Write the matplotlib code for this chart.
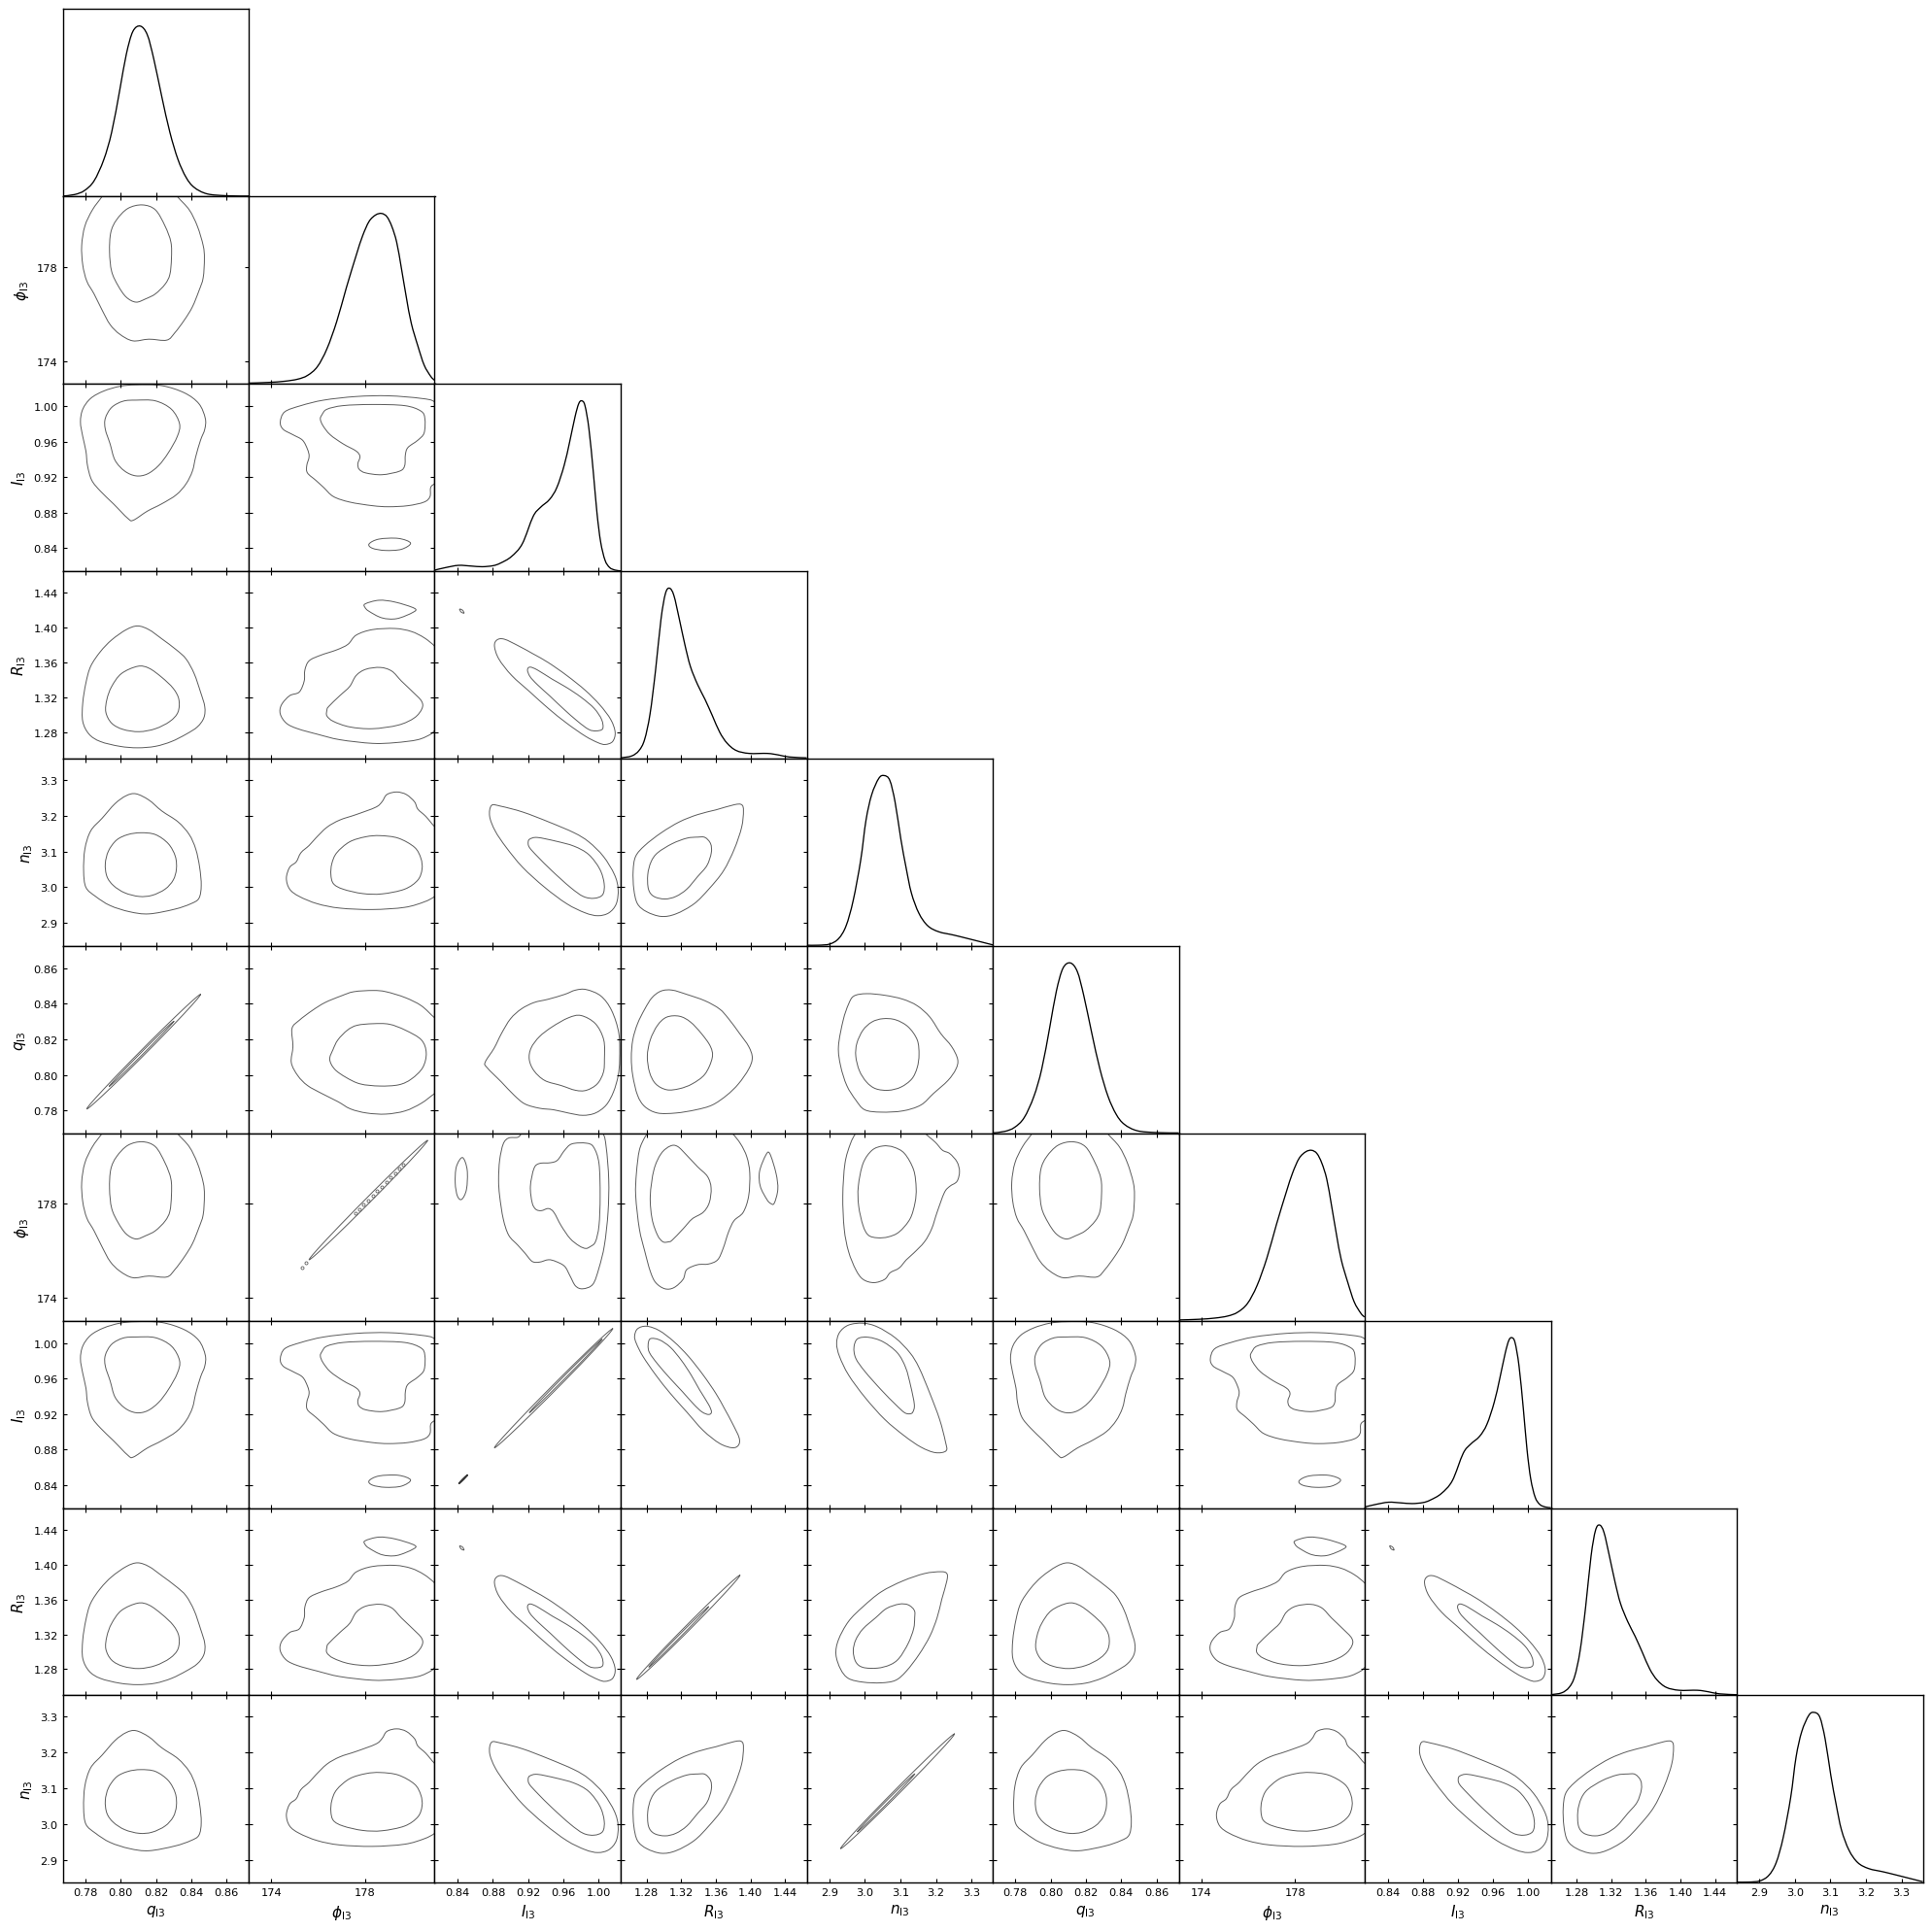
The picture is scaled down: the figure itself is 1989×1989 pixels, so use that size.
import numpy as np
import matplotlib
matplotlib.use("Agg")
import matplotlib.pyplot as plt
from matplotlib.path import Path
from matplotlib.patches import PathPatch

# ---------------- parameters / axes ----------------
PARAM_KEYS = ["q", "phi", "I", "R", "n", "q", "phi", "I", "R", "n"]
LABELS = {"q": r"$q_{\rm l3}$", "phi": r"$\phi_{\rm l3}$", "I": r"$I_{\rm l3}$",
          "R": r"$R_{\rm l3}$", "n": r"$n_{\rm l3}$"}
LIMITS = {"q": (0.7671, 0.8726), "phi": (173.04, 180.98), "I": (0.8137, 1.0255),
          "R": (1.2500, 1.4650), "n": (2.836, 3.360)}
Q_TICKS = [0.78, 0.80, 0.82, 0.84, 0.86]
PHI_TICKS = [174, 178]
I_TICKS = [0.84, 0.88, 0.92, 0.96, 1.00]
R_TICKS = [1.28, 1.32, 1.36, 1.40, 1.44]
N_TICKS = [2.9, 3.0, 3.1, 3.2, 3.3]
Q_TICKLABELS = ["0.78", "0.80", "0.82", "0.84", "0.86"]
PHI_TICKLABELS = ["174", "178"]
I_TICKLABELS = ["0.84", "0.88", "0.92", "0.96", "1.00"]
R_TICKLABELS = ["1.28", "1.32", "1.36", "1.40", "1.44"]
N_TICKLABELS = ["2.9", "3.0", "3.1", "3.2", "3.3"]

# ---------------- 1D marginals (peak-normalised) ----------------
Q_X = [0.7671, 0.7739, 0.7794, 0.7849, 0.7904, 0.7949, 0.7995, 0.8032, 0.8069, 0.8111,
       0.8151, 0.8188, 0.8233, 0.8279, 0.8325, 0.8371, 0.8417, 0.8490, 0.8600, 0.8726]
Q_D = [0.002, 0.011, 0.034, 0.091, 0.215, 0.377, 0.625, 0.834, 0.968, 1.0,
       0.949, 0.806, 0.587, 0.377, 0.217, 0.112, 0.053, 0.015, 0.004, 0.002]

PHI_X = [173.05, 173.89, 174.58, 175.13, 175.55, 175.97, 176.38, 176.80, 177.21, 177.63,
         177.90, 178.18, 178.46, 178.71, 178.94, 179.15, 179.36, 179.56, 179.77, 179.98,
         180.26, 180.53, 180.81, 180.97]
PHI_D = [0.004, 0.008, 0.015, 0.027, 0.049, 0.100, 0.205, 0.366, 0.564, 0.754,
         0.867, 0.953, 0.991, 1.0, 0.981, 0.924, 0.830, 0.678, 0.508, 0.356,
         0.223, 0.110, 0.044, 0.021]

I_X = [0.8137, 0.8262, 0.8407, 0.8552, 0.8677, 0.8801, 0.8885, 0.9009, 0.9134, 0.9258,
       0.9341, 0.9445, 0.9528, 0.9611, 0.9674, 0.9736, 0.9777, 0.9811, 0.9848, 0.9894,
       0.9944, 0.9985, 1.0027, 1.0077, 1.0130, 1.0193, 1.0255]
I_D = [0.006, 0.021, 0.034, 0.030, 0.026, 0.032, 0.047, 0.085, 0.160, 0.321,
       0.374, 0.421, 0.491, 0.620, 0.759, 0.908, 0.983, 1.0, 0.972, 0.833,
       0.577, 0.342, 0.171, 0.064, 0.021, 0.006, 0.002]

R_X = [1.2500, 1.2627, 1.2712, 1.2776, 1.2839, 1.2903, 1.2966, 1.3017, 1.3064, 1.3115,
       1.3178, 1.3242, 1.3306, 1.3390, 1.3475, 1.3560, 1.3645, 1.3730, 1.3836, 1.3984,
       1.4196, 1.4323, 1.4450, 1.4650]
R_D = [0.004, 0.015, 0.047, 0.111, 0.261, 0.518, 0.818, 0.968, 1.0, 0.957,
       0.818, 0.668, 0.540, 0.433, 0.347, 0.251, 0.154, 0.090, 0.047, 0.030,
       0.030, 0.021, 0.009, 0.004]

N_X = [2.836, 2.870, 2.901, 2.926, 2.947, 2.967, 2.988, 3.003, 3.019, 3.039,
       3.054, 3.070, 3.085, 3.101, 3.116, 3.131, 3.152, 3.177, 3.208, 3.249,
       3.290, 3.360]
N_D = [0.004, 0.004, 0.011, 0.043, 0.118, 0.267, 0.502, 0.737, 0.887, 0.983,
       1.0, 0.972, 0.844, 0.630, 0.459, 0.310, 0.192, 0.118, 0.083, 0.064,
       0.043, 0.006]

# ---------------- 2D contour lines (data units: x-param, y-param) ----------------
QPHI_OUTER = [(0.7895, 180.98), (0.7840, 180.41), (0.7797, 179.72), (0.7779, 178.90), (0.7785, 178.08),
              (0.7808, 177.39), (0.7849, 176.85), (0.7895, 176.16), (0.7940, 175.55), (0.7995, 175.14),
              (0.8069, 174.86), (0.8160, 174.93), (0.8261, 174.89), (0.8307, 175.20), (0.8362, 175.75),
              (0.8407, 176.30), (0.8444, 176.98), (0.8468, 177.53), (0.8475, 178.35), (0.8468, 178.90),
              (0.8435, 179.72), (0.8389, 180.41), (0.8321, 180.98), (0.8270, 181.50), (0.8105, 181.71),
              (0.7940, 181.50)]
QPHI_INNER = [(0.8123, 180.62), (0.8197, 180.41), (0.8252, 179.72), (0.8285, 179.04), (0.8288, 178.35),
              (0.8279, 177.67), (0.8252, 177.26), (0.8197, 176.85), (0.8142, 176.64), (0.8087, 176.50),
              (0.8032, 176.71), (0.7986, 177.19), (0.7949, 177.80), (0.7937, 178.63), (0.7944, 179.45),
              (0.7977, 179.99), (0.8041, 180.47)]

QI_OUTER = [(0.8087, 1.0243), (0.8233, 1.0234), (0.8362, 1.0152), (0.8444, 1.0029), (0.8480, 0.9864),
            (0.8477, 0.9741), (0.8453, 0.9617), (0.8426, 0.9432), (0.8407, 0.9268), (0.8371, 0.9124),
            (0.8316, 0.9001), (0.8233, 0.8898), (0.8151, 0.8815), (0.8072, 0.8713), (0.8041, 0.8733),
            (0.7959, 0.8898), (0.7885, 0.9042), (0.7836, 0.9165), (0.7812, 0.9330), (0.7803, 0.9494),
            (0.7785, 0.9659), (0.7772, 0.9823), (0.7785, 0.9967), (0.7830, 1.0090), (0.7904, 1.0173),
            (0.7995, 1.0226)]
QI_INNER = [(0.8087, 1.0070), (0.8197, 1.0062), (0.8288, 0.9967), (0.8334, 0.9803), (0.8321, 0.9659),
            (0.8270, 0.9474), (0.8215, 0.9330), (0.8151, 0.9235), (0.8087, 0.9214), (0.8023, 0.9268),
            (0.7968, 0.9391), (0.7940, 0.9576), (0.7913, 0.9741), (0.7913, 0.9864), (0.7949, 0.9988),
            (0.8014, 1.0058)]

PHII_OUTER = [(180.98, 1.0049), (180.39, 1.0090), (179.01, 1.0119), (177.63, 1.0111), (176.24, 1.0070),
              (175.27, 1.0008), (174.58, 0.9938), (174.39, 0.9823), (174.51, 0.9741), (174.93, 0.9679),
              (175.34, 0.9617), (175.55, 0.9515), (175.62, 0.9432), (175.52, 0.9330), (175.55, 0.9247),
              (175.90, 0.9165), (176.24, 0.9083), (176.66, 0.8980), (177.35, 0.8918), (178.32, 0.8877),
              (179.01, 0.8865), (179.84, 0.8877), (180.53, 0.8918), (180.78, 0.8980), (180.81, 0.9083),
              (180.98, 0.9124), (181.23, 0.9145), (181.36, 0.9494), (181.29, 0.9905)]
PHII_INNER = [(176.17, 0.9905), (176.38, 0.9967), (177.07, 1.0008), (178.32, 1.0021), (179.70, 1.0008),
              (180.39, 0.9947), (180.56, 0.9864), (180.53, 0.9700), (180.26, 0.9617), (179.84, 0.9535),
              (179.73, 0.9453), (179.70, 0.9330), (179.49, 0.9268), (178.73, 0.9227), (178.04, 0.9247),
              (177.76, 0.9288), (177.70, 0.9350), (177.79, 0.9432), (177.63, 0.9494), (177.07, 0.9576),
              (176.52, 0.9679), (176.21, 0.9782), (176.10, 0.9856)]
PHII_ISLAND = [(178.18, 0.8445), (178.60, 0.8499), (179.43, 0.8507), (179.95, 0.8454), (179.56, 0.8384),
               (178.87, 0.8371), (178.32, 0.8396)]

QR_OUTER = [(0.8096, 1.4021), (0.8160, 1.3979), (0.8233, 1.3874), (0.8316, 1.3747), (0.8371, 1.3642),
            (0.8417, 1.3474), (0.8453, 1.3263), (0.8477, 1.3095), (0.8472, 1.2968), (0.8435, 1.2863),
            (0.8371, 1.2779), (0.8288, 1.2695), (0.8197, 1.2640), (0.8096, 1.2623), (0.7995, 1.2640),
            (0.7885, 1.2695), (0.7821, 1.2779), (0.7785, 1.2926), (0.7785, 1.3137), (0.7803, 1.3368),
            (0.7830, 1.3558), (0.7885, 1.3726), (0.7949, 1.3861), (0.8032, 1.3979)]
QR_INNER = [(0.8096, 1.3558), (0.8160, 1.3537), (0.8233, 1.3432), (0.8298, 1.3305), (0.8330, 1.3179),
            (0.8325, 1.3032), (0.8279, 1.2926), (0.8197, 1.2842), (0.8105, 1.2808), (0.8014, 1.2834),
            (0.7949, 1.2905), (0.7916, 1.3032), (0.7922, 1.3179), (0.7949, 1.3326), (0.8004, 1.3474)]

PHIR_OUTER = [(180.98, 1.3789), (180.53, 1.3886), (179.98, 1.3958), (179.29, 1.3992), (178.32, 1.3979),
              (177.63, 1.3916), (177.28, 1.3811), (176.80, 1.3747), (176.10, 1.3684), (175.62, 1.3621),
              (175.44, 1.3516), (175.41, 1.3389), (175.20, 1.3263), (174.79, 1.3221), (174.44, 1.3116),
              (174.39, 1.3011), (174.65, 1.2905), (175.13, 1.2842), (175.97, 1.2779), (176.93, 1.2716),
              (178.32, 1.2674), (179.29, 1.2682), (180.26, 1.2716), (180.81, 1.2779), (180.98, 1.2821),
              (181.29, 1.2884), (181.43, 1.3305), (181.29, 1.3684)]
PHIR_INNER = [(176.38, 1.3053), (176.45, 1.3095), (176.93, 1.3221), (177.35, 1.3326), (177.63, 1.3453),
              (178.04, 1.3524), (178.66, 1.3545), (179.15, 1.3503), (179.56, 1.3389), (180.05, 1.3263),
              (180.42, 1.3158), (180.44, 1.3074), (180.12, 1.2968), (179.43, 1.2884), (178.32, 1.2842),
              (177.35, 1.2863), (176.66, 1.2926), (176.38, 1.2989)]
PHIR_ISLAND = [(178.01, 1.4274), (178.60, 1.4316), (179.29, 1.4295), (180.12, 1.4223), (180.05, 1.4177),
               (179.36, 1.4105), (178.73, 1.4114), (178.18, 1.4189), (178.01, 1.4232)]

IR_OUTER = [(0.8847, 1.3861), (0.8931, 1.3869), (0.9098, 1.3789), (0.9265, 1.3697), (0.9432, 1.3600),
            (0.9641, 1.3453), (0.9850, 1.3284), (1.0017, 1.3116), (1.0142, 1.2947), (1.0192, 1.2800),
            (1.0163, 1.2695), (1.0079, 1.2661), (0.9996, 1.2682), (0.9850, 1.2758), (0.9641, 1.2905),
            (0.9432, 1.3074), (0.9223, 1.3263), (0.9014, 1.3453), (0.8868, 1.3642), (0.8818, 1.3789)]
IR_INNER = [(0.9223, 1.3549), (0.9307, 1.3516), (0.9474, 1.3411), (0.9641, 1.3314), (0.9808, 1.3200),
            (0.9954, 1.3074), (1.0038, 1.2947), (1.0050, 1.2842), (0.9975, 1.2817), (0.9891, 1.2834),
            (0.9766, 1.2926), (0.9599, 1.3074), (0.9453, 1.3213), (0.9307, 1.3347), (0.9223, 1.3440),
            (0.9194, 1.3516)]
IR_ISLAND = [(0.8421, 1.4215), (0.8454, 1.4202), (0.8471, 1.4168), (0.8438, 1.4181)]

QN_OUTER = [(0.8087, 3.2613), (0.8160, 3.2440), (0.8233, 3.2135), (0.8325, 3.1830), (0.8389, 3.1473),
            (0.8426, 3.1066), (0.8448, 3.0557), (0.8457, 3.0048), (0.8444, 2.9692), (0.8398, 2.9539),
            (0.8307, 2.9387), (0.8160, 2.9255), (0.8050, 2.9316), (0.7940, 2.9489), (0.7858, 2.9743),
            (0.7803, 2.9997), (0.7790, 3.0455), (0.7797, 3.1066), (0.7830, 3.1575), (0.7895, 3.1931),
            (0.7968, 3.2338), (0.8032, 3.2562)]
QN_INNER = [(0.8114, 3.1524), (0.8197, 3.1473), (0.8270, 3.1219), (0.8310, 3.0863), (0.8316, 3.0506),
            (0.8298, 3.0201), (0.8252, 2.9947), (0.8178, 2.9774), (0.8105, 2.9743), (0.8023, 2.9845),
            (0.7959, 3.0048), (0.7922, 3.0303), (0.7913, 3.0659), (0.7931, 3.1015), (0.7977, 3.1321),
            (0.8041, 3.1473)]

PHIN_OUTER = [(180.98, 3.1697), (180.60, 3.1982), (180.26, 3.2186), (180.12, 3.2389), (179.77, 3.2593),
              (179.36, 3.2664), (178.94, 3.2593), (178.73, 3.2389), (178.46, 3.2237), (177.63, 3.2033),
              (176.93, 3.1880), (176.38, 3.1677), (175.90, 3.1372), (175.62, 3.1168), (175.27, 3.0964),
              (175.07, 3.0710), (174.79, 3.0557), (174.65, 3.0252), (174.79, 2.9947), (175.20, 2.9743),
              (175.97, 2.9539), (176.93, 2.9417), (178.32, 2.9377), (179.70, 2.9438), (180.53, 2.9590),
              (180.98, 2.9743), (181.29, 2.9947), (181.43, 3.0964), (181.29, 3.1575)]
PHIN_INNER = [(176.59, 3.0659), (176.80, 3.0964), (177.35, 3.1270), (178.04, 3.1412), (178.66, 3.1443),
              (179.43, 3.1372), (180.12, 3.1117), (180.39, 3.0812), (180.44, 3.0506), (180.26, 3.0201),
              (179.70, 2.9947), (178.73, 2.9814), (177.90, 2.9824), (177.07, 2.9947), (176.66, 3.0099),
              (176.55, 3.0354)]

IN_OUTER = [(0.8784, 3.2288), (0.8889, 3.2267), (0.9139, 3.2104), (0.9432, 3.1830), (0.9724, 3.1524),
            (0.9891, 3.1270), (1.0058, 3.0863), (1.0184, 3.0354), (1.0226, 2.9947), (1.0205, 2.9539),
            (1.0121, 2.9285), (0.9996, 2.9204), (0.9850, 2.9285), (0.9641, 2.9539), (0.9390, 2.9997),
            (0.9139, 3.0557), (0.8951, 3.1117), (0.8826, 3.1575), (0.8763, 3.1982)]
IN_INNER = [(0.9223, 3.1351), (0.9307, 3.1392), (0.9515, 3.1290), (0.9724, 3.1148), (0.9891, 3.0914),
            (1.0017, 3.0506), (1.0067, 3.0099), (1.0050, 2.9794), (0.9954, 2.9692), (0.9829, 2.9743),
            (0.9682, 2.9997), (0.9474, 3.0455), (0.9307, 3.0863), (0.9215, 3.1117), (0.9202, 3.1270)]

RN_OUTER = [(1.3898, 3.2308), (1.3919, 3.2135), (1.3898, 3.1677), (1.3813, 3.1066), (1.3687, 3.0455),
            (1.3518, 2.9947), (1.3349, 2.9539), (1.3138, 2.9255), (1.2969, 2.9184), (1.2800, 2.9316),
            (1.2694, 2.9539), (1.2652, 2.9947), (1.2644, 3.0455), (1.2673, 3.0863), (1.2779, 3.1168),
            (1.2969, 3.1524), (1.3180, 3.1830), (1.3391, 3.2033), (1.3602, 3.2165), (1.3813, 3.2308)]
RN_INNER = [(1.3475, 3.1392), (1.3539, 3.1219), (1.3547, 3.0964), (1.3497, 3.0608), (1.3391, 3.0303),
            (1.3264, 2.9947), (1.3138, 2.9743), (1.3011, 2.9672), (1.2884, 2.9743), (1.2821, 2.9947),
            (1.2813, 3.0354), (1.2851, 3.0710), (1.2927, 3.0964), (1.3096, 3.1219), (1.3264, 3.1372),
            (1.3391, 3.1402)]

# parameter plotted against itself: extent of the thin diagonal contours
SELF_OUTER = {"q": (0.7808, 0.8453), "phi": (175.62, 180.67), "I": (0.8818, 1.0163),
              "R": (1.2684, 1.3877), "n": (2.9314, 3.252)}
SELF_INNER = {"q": (0.7935, 0.8301), "I": (0.9215, 1.0042), "R": (1.2825, 1.3516),
              "n": (2.9785, 3.140)}
I_SELF_EXTRA = (0.8413, 0.8509)
PHI_SELF_BLOBS = [175.30, 175.48, 177.59, 177.77, 177.95, 178.14, 178.34, 178.53, 178.72,
                  178.92, 179.11, 179.30, 179.47, 179.64]

# ---------------- assemble lookup tables ----------------
TICKS = {"q": Q_TICKS, "phi": PHI_TICKS, "I": I_TICKS, "R": R_TICKS, "n": N_TICKS}
TICKLABELS = {"q": Q_TICKLABELS, "phi": PHI_TICKLABELS, "I": I_TICKLABELS,
              "R": R_TICKLABELS, "n": N_TICKLABELS}
MARGINALS = {"q": (Q_X, Q_D), "phi": (PHI_X, PHI_D), "I": (I_X, I_D),
             "R": (R_X, R_D), "n": (N_X, N_D)}
# third entry (islands) flagged: shown in transposed panels or not
PAIRS = {
    ("q", "phi"): ([QPHI_OUTER, QPHI_INNER], []),
    ("q", "I"): ([QI_OUTER, QI_INNER], []),
    ("phi", "I"): ([PHII_OUTER, PHII_INNER, PHII_ISLAND], []),
    ("q", "R"): ([QR_OUTER, QR_INNER], []),
    ("phi", "R"): ([PHIR_OUTER, PHIR_INNER, PHIR_ISLAND], []),
    ("I", "R"): ([IR_OUTER, IR_INNER], [IR_ISLAND]),
    ("q", "n"): ([QN_OUTER, QN_INNER], []),
    ("phi", "n"): ([PHIN_OUTER, PHIN_INNER], []),
    ("I", "n"): ([IN_OUTER, IN_INNER], []),
    ("R", "n"): ([RN_OUTER, RN_INNER], []),
}

# ---------------- style ----------------
CONTOUR_COLOR = "#5c5c5c"
CONTOUR_LW = 0.7
MARG_LW = 0.95
OUTER_HALFWIDTH = 0.010   # fraction of axis range
INNER_HALFWIDTH = 0.0045

plt.rcParams["font.family"] = ["DejaVu Sans"]
plt.rcParams["mathtext.fontset"] = "dejavusans"
plt.rcParams["axes.linewidth"] = 1.0

fig = plt.figure(figsize=(19.9, 19.9), dpi=100)
gs = fig.add_gridspec(10, 10, left=64.5 / 1990, right=1979.5 / 1990,
                      bottom=1 - 1939.3 / 1990, top=1 - 10.3 / 1990,
                      wspace=0, hspace=0)


def smooth_path(x, y, closed):
    """Catmull-Rom curve through the given vertices, as cubic Bezier segments."""
    p = np.column_stack([x, y]).astype(float)
    n = len(p)
    verts = [p[0]]
    codes = [Path.MOVETO]
    nseg = n if closed else n - 1
    for k in range(nseg):
        if closed:
            p0, p1, p2, p3 = p[(k - 1) % n], p[k], p[(k + 1) % n], p[(k + 2) % n]
        else:
            p0 = p[max(k - 1, 0)]
            p1 = p[k]
            p2 = p[k + 1]
            p3 = p[min(k + 2, n - 1)]
        c1 = p1 + (p2 - p0) / 6.0
        c2 = p2 - (p3 - p1) / 6.0
        verts += [c1, c2, p2]
        codes += [Path.CURVE4] * 3
    return Path(np.array(verts), codes)


def draw_curve(ax, x, y, closed, color, lw):
    ax.add_patch(PathPatch(smooth_path(x, y, closed), facecolor="none",
                           edgecolor=color, lw=lw))


def thin_ellipse(ax, lo, hi, key, halfwidth, color, lw):
    span = LIMITS[key][1] - LIMITS[key][0]
    c = 0.5 * (lo + hi)
    a = 0.5 * (hi - lo)
    t = np.linspace(0, 2 * np.pi, 181)
    along = a * np.cos(t)
    perp = halfwidth * span * np.sin(t)
    ax.plot(c + along - perp, c + along + perp, color=color, lw=lw)


for i in range(10):
    for j in range(i + 1):
        ax = fig.add_subplot(gs[i, j])
        py = PARAM_KEYS[i]
        px = PARAM_KEYS[j]
        if i == j:
            xs, ds = MARGINALS[px]
            draw_curve(ax, xs, ds, False, "black", MARG_LW)
            ax.set_ylim(0, 1.1 * max(ds))
            ax.set_yticks([])
            ax.tick_params(axis="x", direction="in", bottom=True, top=False,
                           length=3.2, width=0.8, labelsize=8.2)
        else:
            if px == py:
                lo, hi = SELF_OUTER[px]
                thin_ellipse(ax, lo, hi, px, OUTER_HALFWIDTH, CONTOUR_COLOR, CONTOUR_LW)
                if px in SELF_INNER:
                    lo, hi = SELF_INNER[px]
                    thin_ellipse(ax, lo, hi, px, INNER_HALFWIDTH, CONTOUR_COLOR, CONTOUR_LW)
                if px == "I":
                    lo, hi = I_SELF_EXTRA
                    thin_ellipse(ax, lo, hi, px, 0.002, "#333333", 1.0)
                if px == "phi":
                    b = np.asarray(PHI_SELF_BLOBS)
                    ax.plot(b, b, linestyle="none", marker="o", markersize=2.2,
                            markerfacecolor="none", markeredgecolor=CONTOUR_COLOR,
                            markeredgewidth=0.6)
            else:
                if (px, py) in PAIRS:
                    main, extra = PAIRS[(px, py)]
                    paths = main + extra
                    swap = False
                else:
                    main, extra = PAIRS[(py, px)]
                    paths = main
                    swap = True
                for p in paths:
                    a = np.asarray(p, dtype=float)
                    if swap:
                        draw_curve(ax, a[:, 1], a[:, 0], True, CONTOUR_COLOR, CONTOUR_LW)
                    else:
                        draw_curve(ax, a[:, 0], a[:, 1], True, CONTOUR_COLOR, CONTOUR_LW)
            ax.set_ylim(*LIMITS[py])
            ax.set_yticks(TICKS[py])
            ax.tick_params(axis="both", direction="in", bottom=True, top=True,
                           left=True, right=True, length=3.2, width=0.8, labelsize=8.2)
            if j == 0:
                ax.set_yticklabels(TICKLABELS[py])
                ax.set_ylabel(LABELS[py], fontsize=11)
            else:
                ax.set_yticklabels([])
        ax.set_xlim(*LIMITS[px])
        ax.set_xticks(TICKS[px])
        if i == 9:
            ax.set_xticklabels(TICKLABELS[px])
            ax.set_xlabel(LABELS[px], fontsize=11)
        else:
            ax.set_xticklabels([])

fig.savefig("out.png", dpi=100)
